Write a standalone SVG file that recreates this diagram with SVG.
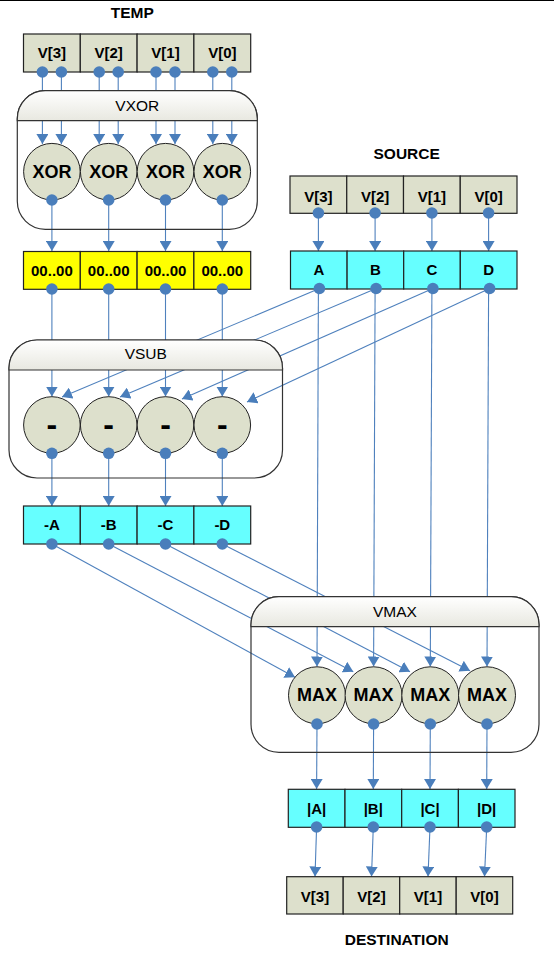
<svg xmlns="http://www.w3.org/2000/svg" width="554" height="963" viewBox="0 0 554 963">
<style>
text{font-family:"Liberation Sans",Arial,sans-serif;text-anchor:middle;fill:#000}
.b{font-weight:bold;font-size:15px}
.big{font-weight:bold;font-size:18px}
.lbl{font-weight:bold;font-size:15.5px}
.hdr{font-size:15.5px}
.g{fill:#dde0cc;stroke:#222;stroke-width:1.2}
.y{fill:#ffff00;stroke:#222;stroke-width:1.2}
.c{fill:#66ffff;stroke:#222;stroke-width:1.2}
.op{fill:#dde0cc;stroke:#222;stroke-width:1}
.dot{fill:#4a7ebb}
.box{fill:none;stroke:#333;stroke-width:1.2}
.head{fill:url(#hg);stroke:#333;stroke-width:1.2}
#conn line{stroke:#4f81bd;stroke-width:1.1;marker-end:url(#ar)}
</style>
<defs>
<linearGradient id="hg" x1="0" y1="0" x2="0" y2="1">
<stop offset="0" stop-color="#ffffff"/>
<stop offset="1" stop-color="#e8e8e0"/>
</linearGradient>
<marker id="ar" markerUnits="userSpaceOnUse" viewBox="0 0 10 12" refX="10" refY="6" markerWidth="10" markerHeight="12" orient="auto">
<path d="M0,0 L10,6 L0,12 Z" fill="#4a7ebb"/>
</marker>
</defs>
<line x1="0" y1="0.5" x2="554" y2="0.5" stroke="#000" stroke-width="1.2"/>

<g id="conn">
<!-- TEMP to XOR -->
<line x1="42.4" y1="72" x2="42.4" y2="144"/>
<line x1="61.4" y1="72" x2="61.4" y2="144"/>
<line x1="99.2" y1="72" x2="99.2" y2="144"/>
<line x1="118.2" y1="72" x2="118.2" y2="144"/>
<line x1="156" y1="72" x2="156" y2="144"/>
<line x1="175" y1="72" x2="175" y2="144"/>
<line x1="212.8" y1="72" x2="212.8" y2="144"/>
<line x1="231.8" y1="72" x2="231.8" y2="144"/>
<!-- XOR to zeros -->
<line x1="51.9" y1="200" x2="51.9" y2="251"/>
<line x1="108.7" y1="200" x2="108.7" y2="251"/>
<line x1="165.5" y1="200" x2="165.5" y2="251"/>
<line x1="222.3" y1="200" x2="222.3" y2="251"/>
<!-- zeros to SUB -->
<line x1="51.9" y1="289" x2="51.9" y2="396.5"/>
<line x1="108.7" y1="289" x2="108.7" y2="396.5"/>
<line x1="165.5" y1="289" x2="165.5" y2="396.5"/>
<line x1="222.3" y1="289" x2="222.3" y2="396.5"/>
<!-- SOURCE to ABCD -->
<line x1="318.4" y1="213" x2="318.4" y2="251"/>
<line x1="375.1" y1="213" x2="375.1" y2="251"/>
<line x1="431.9" y1="213" x2="431.9" y2="251"/>
<line x1="488.6" y1="213" x2="488.6" y2="251"/>
<!-- ABCD to SUB -->
<line x1="319.4" y1="288.5" x2="62" y2="397"/>
<line x1="376.1" y1="288.5" x2="120" y2="397"/>
<line x1="432.9" y1="288.5" x2="182" y2="399"/>
<line x1="489.6" y1="288.5" x2="247" y2="402"/>
<!-- ABCD to MAX -->
<line x1="318.4" y1="289" x2="317" y2="666.5"/>
<line x1="375.1" y1="289" x2="373.6" y2="666.5"/>
<line x1="431.9" y1="289" x2="430.3" y2="666.5"/>
<line x1="488.6" y1="289" x2="487" y2="666.5"/>
<!-- SUB to negs -->
<line x1="51.9" y1="453.3" x2="51.9" y2="506"/>
<line x1="108.7" y1="453.3" x2="108.7" y2="506"/>
<line x1="165.5" y1="453.3" x2="165.5" y2="506"/>
<line x1="222.3" y1="453.3" x2="222.3" y2="506"/>
<!-- negs to MAX -->
<line x1="51.9" y1="544" x2="295" y2="677.3"/>
<line x1="108.7" y1="544" x2="353.3" y2="671.7"/>
<line x1="165.5" y1="544" x2="410" y2="671.7"/>
<line x1="222.3" y1="544" x2="470" y2="670.7"/>
<!-- MAX to abs -->
<line x1="317" y1="724" x2="316.6" y2="789"/>
<line x1="373.6" y1="724" x2="373.3" y2="789"/>
<line x1="430.3" y1="724" x2="430" y2="789"/>
<line x1="487" y1="724" x2="486.7" y2="789"/>
<!-- abs to DEST -->
<line x1="316.6" y1="827" x2="315" y2="876.5"/>
<line x1="373.3" y1="827" x2="371.5" y2="876.5"/>
<line x1="430" y1="827" x2="428" y2="876.5"/>
<line x1="486.7" y1="827" x2="484.5" y2="876.5"/>
</g>

<g id="temp">
<text class="lbl" x="132.3" y="17.5">TEMP</text>
<rect class="g" x="23.5" y="34" width="56.8" height="38"/>
<rect class="g" x="80.3" y="34" width="56.8" height="38"/>
<rect class="g" x="137.1" y="34" width="56.8" height="38"/>
<rect class="g" x="193.9" y="34" width="56.8" height="38"/>
<text class="b" x="51.9" y="58">V[3]</text>
<text class="b" x="108.7" y="58">V[2]</text>
<text class="b" x="165.5" y="58">V[1]</text>
<text class="b" x="222.3" y="58">V[0]</text>
<circle class="dot" cx="42.4" cy="72" r="5.8"/>
<circle class="dot" cx="61.4" cy="72" r="5.8"/>
<circle class="dot" cx="99.2" cy="72" r="5.8"/>
<circle class="dot" cx="118.2" cy="72" r="5.8"/>
<circle class="dot" cx="156" cy="72" r="5.8"/>
<circle class="dot" cx="175" cy="72" r="5.8"/>
<circle class="dot" cx="212.8" cy="72" r="5.8"/>
<circle class="dot" cx="231.8" cy="72" r="5.8"/>
</g>

<g id="vxor">
<rect class="box" x="17.3" y="90.7" width="240" height="138.6" rx="28" ry="28"/>
<path class="head" d="M17.3,120.7 L17.3,118.7 A28,28 0 0 1 45.3,90.7 L229.3,90.7 A28,28 0 0 1 257.3,118.7 L257.3,120.7 Z"/>
<text class="hdr" x="137.3" y="110.5">VXOR</text>
<circle class="op" cx="51.9" cy="171.7" r="28.3"/>
<circle class="op" cx="108.7" cy="171.7" r="28.3"/>
<circle class="op" cx="165.5" cy="171.7" r="28.3"/>
<circle class="op" cx="222.3" cy="171.7" r="28.3"/>
<text class="big" x="51.9" y="177.5">XOR</text>
<text class="big" x="108.7" y="177.5">XOR</text>
<text class="big" x="165.5" y="177.5">XOR</text>
<text class="big" x="222.3" y="177.5">XOR</text>
<circle class="dot" cx="51.9" cy="200" r="5.8"/>
<circle class="dot" cx="108.7" cy="200" r="5.8"/>
<circle class="dot" cx="165.5" cy="200" r="5.8"/>
<circle class="dot" cx="222.3" cy="200" r="5.8"/>
</g>

<g id="zeros">
<rect class="y" x="23.5" y="251.5" width="56.8" height="37.8"/>
<rect class="y" x="80.3" y="251.5" width="56.8" height="37.8"/>
<rect class="y" x="137.1" y="251.5" width="56.8" height="37.8"/>
<rect class="y" x="193.9" y="251.5" width="56.8" height="37.8"/>
<text class="b" x="51.9" y="275.5">00..00</text>
<text class="b" x="108.7" y="275.5">00..00</text>
<text class="b" x="165.5" y="275.5">00..00</text>
<text class="b" x="222.3" y="275.5">00..00</text>
<circle class="dot" cx="51.9" cy="289" r="5.8"/>
<circle class="dot" cx="108.7" cy="289" r="5.8"/>
<circle class="dot" cx="165.5" cy="289" r="5.8"/>
<circle class="dot" cx="222.3" cy="289" r="5.8"/>
</g>

<g id="source">
<text class="lbl" x="406.7" y="159.3">SOURCE</text>
<rect class="g" x="290" y="176" width="56.75" height="37.3"/>
<rect class="g" x="346.75" y="176" width="56.75" height="37.3"/>
<rect class="g" x="403.5" y="176" width="56.75" height="37.3"/>
<rect class="g" x="460.25" y="176" width="56.75" height="37.3"/>
<text class="b" x="318.4" y="201.5">V[3]</text>
<text class="b" x="375.1" y="201.5">V[2]</text>
<text class="b" x="431.9" y="201.5">V[1]</text>
<text class="b" x="488.6" y="201.5">V[0]</text>
<circle class="dot" cx="318.4" cy="213" r="5.8"/>
<circle class="dot" cx="375.1" cy="213" r="5.8"/>
<circle class="dot" cx="431.9" cy="213" r="5.8"/>
<circle class="dot" cx="488.6" cy="213" r="5.8"/>
</g>

<g id="abcd">
<rect class="c" x="290.5" y="251" width="56.6" height="38"/>
<rect class="c" x="347.1" y="251" width="56.6" height="38"/>
<rect class="c" x="403.7" y="251" width="56.6" height="38"/>
<rect class="c" x="460.3" y="251" width="56.7" height="38"/>
<text class="b" x="318.8" y="275.3">A</text>
<text class="b" x="375.4" y="275.3">B</text>
<text class="b" x="432" y="275.3">C</text>
<text class="b" x="488.6" y="275.3">D</text>
<circle class="dot" cx="319.4" cy="288.5" r="5.8"/>
<circle class="dot" cx="376.1" cy="288.5" r="5.8"/>
<circle class="dot" cx="432.9" cy="288.5" r="5.8"/>
<circle class="dot" cx="489.6" cy="288.5" r="5.8"/>
</g>

<g id="vsub">
<rect class="box" x="9" y="340" width="273.5" height="138" rx="28" ry="28"/>
<path class="head" d="M9,370 L9,368 A28,28 0 0 1 37,340 L254.5,340 A28,28 0 0 1 282.5,368 L282.5,370 Z"/>
<text class="hdr" x="145.75" y="359.3">VSUB</text>
<circle class="op" cx="51.9" cy="425" r="28.3"/>
<circle class="op" cx="108.7" cy="425" r="28.3"/>
<circle class="op" cx="165.5" cy="425" r="28.3"/>
<circle class="op" cx="222.3" cy="425" r="28.3"/>
<text x="51.9" y="434.5" style="font-weight:bold;font-size:32px">-</text>
<text x="108.7" y="434.5" style="font-weight:bold;font-size:32px">-</text>
<text x="165.5" y="434.5" style="font-weight:bold;font-size:32px">-</text>
<text x="222.3" y="434.5" style="font-weight:bold;font-size:32px">-</text>
<circle class="dot" cx="51.9" cy="453.3" r="5.8"/>
<circle class="dot" cx="108.7" cy="453.3" r="5.8"/>
<circle class="dot" cx="165.5" cy="453.3" r="5.8"/>
<circle class="dot" cx="222.3" cy="453.3" r="5.8"/>
</g>

<g id="negs">
<rect class="c" x="23.5" y="506" width="56.8" height="38"/>
<rect class="c" x="80.3" y="506" width="56.8" height="38"/>
<rect class="c" x="137.1" y="506" width="56.8" height="38"/>
<rect class="c" x="193.9" y="506" width="56.8" height="38"/>
<text class="b" x="51.9" y="530.3">-A</text>
<text class="b" x="108.7" y="530.3">-B</text>
<text class="b" x="165.5" y="530.3">-C</text>
<text class="b" x="222.3" y="530.3">-D</text>
<circle class="dot" cx="51.9" cy="544" r="5.8"/>
<circle class="dot" cx="108.7" cy="544" r="5.8"/>
<circle class="dot" cx="165.5" cy="544" r="5.8"/>
<circle class="dot" cx="222.3" cy="544" r="5.8"/>
</g>

<g id="vmax">
<rect class="box" x="251" y="596.7" width="288" height="155.6" rx="28" ry="28"/>
<path class="head" d="M251,626.7 L251,624.7 A28,28 0 0 1 279,596.7 L511,596.7 A28,28 0 0 1 539,624.7 L539,626.7 Z"/>
<text class="hdr" x="395" y="616.5">VMAX</text>
<circle class="op" cx="317" cy="695.3" r="28.5"/>
<circle class="op" cx="373.6" cy="695.3" r="28.5"/>
<circle class="op" cx="430.3" cy="695.3" r="28.5"/>
<circle class="op" cx="487" cy="695.3" r="28.5"/>
<text class="big" x="317" y="701.3">MAX</text>
<text class="big" x="373.6" y="701.3">MAX</text>
<text class="big" x="430.3" y="701.3">MAX</text>
<text class="big" x="487" y="701.3">MAX</text>
<circle class="dot" cx="317" cy="724" r="5.8"/>
<circle class="dot" cx="373.6" cy="724" r="5.8"/>
<circle class="dot" cx="430.3" cy="724" r="5.8"/>
<circle class="dot" cx="487" cy="724" r="5.8"/>
</g>

<g id="abs">
<rect class="c" x="288.3" y="789.3" width="56.7" height="38"/>
<rect class="c" x="345" y="789.3" width="56.7" height="38"/>
<rect class="c" x="401.7" y="789.3" width="56.7" height="38"/>
<rect class="c" x="458.4" y="789.3" width="56.6" height="38"/>
<text class="b" x="316.6" y="813.5">|A|</text>
<text class="b" x="373.3" y="813.5">|B|</text>
<text class="b" x="430" y="813.5">|C|</text>
<text class="b" x="486.7" y="813.5">|D|</text>
<circle class="dot" cx="316.6" cy="827" r="5.8"/>
<circle class="dot" cx="373.3" cy="827" r="5.8"/>
<circle class="dot" cx="430" cy="827" r="5.8"/>
<circle class="dot" cx="486.7" cy="827" r="5.8"/>
</g>

<g id="dest">
<rect class="g" x="286.7" y="876.7" width="56.5" height="37.3"/>
<rect class="g" x="343.2" y="876.7" width="56.5" height="37.3"/>
<rect class="g" x="399.7" y="876.7" width="56.5" height="37.3"/>
<rect class="g" x="456.2" y="876.7" width="56.5" height="37.3"/>
<text class="b" x="315" y="901.5">V[3]</text>
<text class="b" x="371.5" y="901.5">V[2]</text>
<text class="b" x="428" y="901.5">V[1]</text>
<text class="b" x="484.5" y="901.5">V[0]</text>
<text class="lbl" x="396.7" y="945">DESTINATION</text>
</g>
</svg>
